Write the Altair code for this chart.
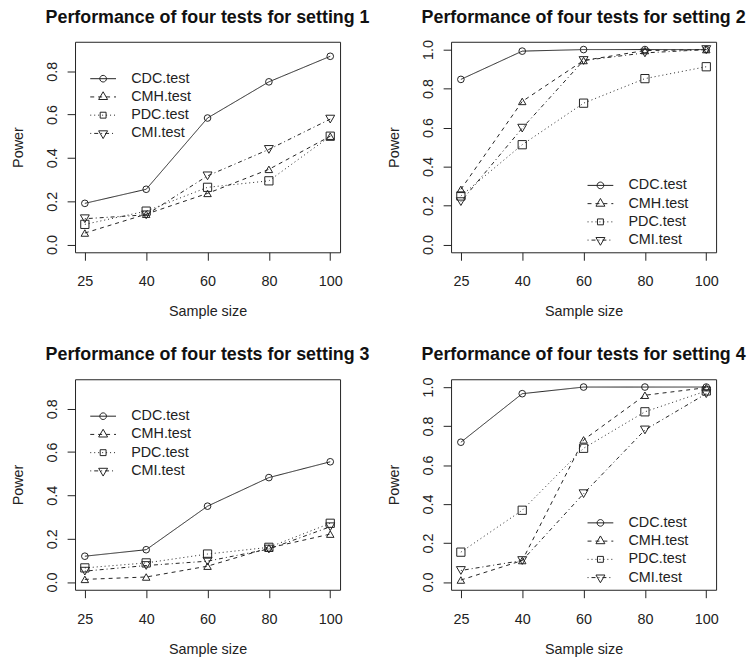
import altair as alt
import pandas as pd

# ---------------- data ----------------
SAMPLE_SIZES = [25, 40, 60, 80, 100]
TESTS = ["CDC.test", "CMH.test", "PDC.test", "CMI.test"]

S1_CDC = [0.190, 0.255, 0.584, 0.751, 0.869]
S1_CMH = [0.053, 0.140, 0.236, 0.347, 0.500]
S1_PDC = [0.093, 0.154, 0.264, 0.294, 0.500]
S1_CMI = [0.119, 0.137, 0.317, 0.439, 0.579]

S2_CDC = [0.847, 0.992, 1.000, 1.000, 1.000]
S2_CMH = [0.283, 0.734, 0.944, 0.995, 1.000]
S2_PDC = [0.249, 0.512, 0.725, 0.851, 0.912]
S2_CMI = [0.220, 0.597, 0.944, 0.983, 1.000]

S3_CDC = [0.119, 0.149, 0.350, 0.482, 0.555]
S3_CMH = [0.012, 0.023, 0.073, 0.157, 0.221]
S3_PDC = [0.065, 0.088, 0.129, 0.160, 0.271]
S3_CMI = [0.050, 0.076, 0.096, 0.152, 0.255]

S4_CDC = [0.717, 0.966, 1.000, 1.000, 1.000]
S4_CMH = [0.010, 0.110, 0.729, 0.958, 0.997]
S4_PDC = [0.153, 0.368, 0.686, 0.873, 0.980]
S4_CMI = [0.059, 0.110, 0.453, 0.780, 0.966]

SETTINGS = {
    1: [S1_CDC, S1_CMH, S1_PDC, S1_CMI],
    2: [S2_CDC, S2_CMH, S2_PDC, S2_CMI],
    3: [S3_CDC, S3_CMH, S3_PDC, S3_CMI],
    4: [S4_CDC, S4_CMH, S4_PDC, S4_CMI],
}
Y_TICKS_LOW = [0.0, 0.2, 0.4, 0.6, 0.8]
Y_TICKS_HIGH = [0.0, 0.2, 0.4, 0.6, 0.8, 1.0]

# ---------------- style ----------------
FONT = "Liberation Sans"
INK = "#222222"
PW, PH = 267.4, 212.4
DASHES = [[1, 0], [4, 4], [1, 3], [1, 3, 4, 3]]
SHAPES = ["circle", "triangle-up", "square", "triangle-down"]
SIZES = [45, 81, 35, 81]

UNIT = 10.85      # legend symbol half size in px (sets legend row height)
LINE_HALF = 13.0  # half length of the legend line sample in px
MR = 3.35         # marker radius in px


def dash_path(pattern):
    lim = LINE_HALF / UNIT
    if pattern[1] == 0:
        return f"M{-lim:.3f},0L{lim:.3f},0"
    total = 2 * LINE_HALF
    segs, pos, i = [], 0.0, 0
    while pos < total:
        length = pattern[i % len(pattern)]
        if i % 2 == 0:
            end = min(pos + length, total)
            segs.append(f"M{(pos - LINE_HALF) / UNIT:.3f},0L{(end - LINE_HALF) / UNIT:.3f},0")
        pos += length
        i += 1
    return "".join(segs)


r = MR / UNIT
ta, tb, tw = 1.555 * MR / UNIT, 0.778 * MR / UNIT, 1.347 * MR / UNIT
sq = 0.886 * MR / UNIT
MARKERS = [
    f"M{r:.3f},0A{r:.3f},{r:.3f},0,1,1,{-r:.3f},0A{r:.3f},{r:.3f},0,1,1,{r:.3f},0Z",
    f"M0,{-ta:.3f}L{tw:.3f},{tb:.3f}L{-tw:.3f},{tb:.3f}Z",
    f"M{-sq:.3f},{-sq:.3f}L{sq:.3f},{-sq:.3f}L{sq:.3f},{sq:.3f}L{-sq:.3f},{sq:.3f}Z",
    f"M0,{ta:.3f}L{tw:.3f},{-tb:.3f}L{-tw:.3f},{-tb:.3f}Z",
]
LEGEND_PATHS = [dash_path(d) + m for d, m in zip(DASHES, MARKERS)]


def panel(k, ymax, yticks, lx, ly, toff):
    rows = []
    for t, vals in zip(TESTS, SETTINGS[k]):
        for n, v in zip(SAMPLE_SIZES, vals):
            rows.append({"n": n, "test": t, "power": v})
    df = pd.DataFrame(rows)
    pad = 0.04 * ymax
    xenc = alt.X(
        "n:O",
        sort=SAMPLE_SIZES,
        scale=alt.Scale(type="point", padding=0.16),
        axis=alt.Axis(
            title="Sample size", labelAngle=0, labelPadding=15,
            titleY=64, titleBaseline="alphabetic",
        ),
    )
    yenc = alt.Y(
        "power:Q",
        scale=alt.Scale(domain=[-pad, ymax + pad], nice=False, zero=False),
        axis=alt.Axis(
            title="Power", values=yticks, format=".1f",
            labelAngle=270, labelAlign="center", labelBaseline="alphabetic",
            labelPadding=11, labelFlush=False, labelOverlap=False,
            titleAngle=270, titleX=-52.6, titleBaseline="alphabetic",
        ),
    )
    base = alt.Chart(df)
    lines = base.mark_line(color=INK, strokeWidth=1).encode(
        x=xenc, y=yenc,
        detail="test:N",
        strokeDash=alt.StrokeDash("test:N", scale=alt.Scale(domain=TESTS, range=DASHES), legend=None),
    )
    points = base.mark_point(filled=False, color=INK, strokeWidth=1, opacity=1).encode(
        x=xenc, y=yenc,
        shape=alt.Shape("test:N", scale=alt.Scale(domain=TESTS, range=SHAPES), legend=None),
        size=alt.Size("test:N", scale=alt.Scale(domain=TESTS, range=SIZES), legend=None),
    )
    leg = base.mark_point(filled=False, color=INK, strokeWidth=1, opacity=1).encode(
        shape=alt.Shape(
            "test:N",
            scale=alt.Scale(domain=TESTS, range=LEGEND_PATHS),
            legend=alt.Legend(
                title=None, orient="none", direction="vertical",
                legendX=lx, legendY=ly, padding=0,
                symbolSize=(2 * UNIT) ** 2, symbolStrokeWidth=1,
                symbolStrokeColor=INK, symbolFillColor="transparent",
                labelFont=FONT, labelFontSize=14.5, labelColor=INK,
                labelOffset=16.8, rowPadding=0.4,
            ),
        ),
    ).transform_filter("false")
    return alt.layer(lines, points, leg).resolve_scale(shape="independent").properties(
        width=PW, height=PH,
        title=alt.TitleParams(
            f"Performance of four tests for setting {k}",
            font=FONT, fontSize=18, fontWeight="bold", color="#111111",
            anchor="middle", frame="group", baseline="alphabetic", offset=toff,
        ),
    )


p1 = panel(1, 0.9, Y_TICKS_LOW, 16.85, 25.75, 1.1)
p2 = panel(2, 1.0, Y_TICKS_HIGH, 139.2, 133.4, -1.1)
p3 = panel(3, 0.9, Y_TICKS_LOW, 16.85, 25.75, 1.1)
p4 = panel(4, 1.0, Y_TICKS_HIGH, 139.2, 133.4, -1.1)

chart = (
    alt.concat(p1, p2, p3, p4, columns=2, spacing={"row": 127.5, "column": 111.4}, bounds="flush")
    .resolve_scale(x="independent", y="independent", shape="independent",
                   strokeDash="independent", size="independent")
    .resolve_legend(shape="independent")
    .properties(padding={"left": 9.7, "top": 5.2, "right": 2, "bottom": 2}, background="white")
    .configure_view(stroke=INK, strokeWidth=1)
    .configure_axis(
        domain=False, grid=False, tickSize=8, tickColor=INK, tickWidth=1,
        labelFont=FONT, labelFontSize=14.5, labelColor=INK,
        titleFont=FONT, titleFontSize=14.5, titleFontWeight="normal", titleColor=INK,
    )
)

chart.save("out.html", embed_options={"renderer": "svg", "actions": False})
